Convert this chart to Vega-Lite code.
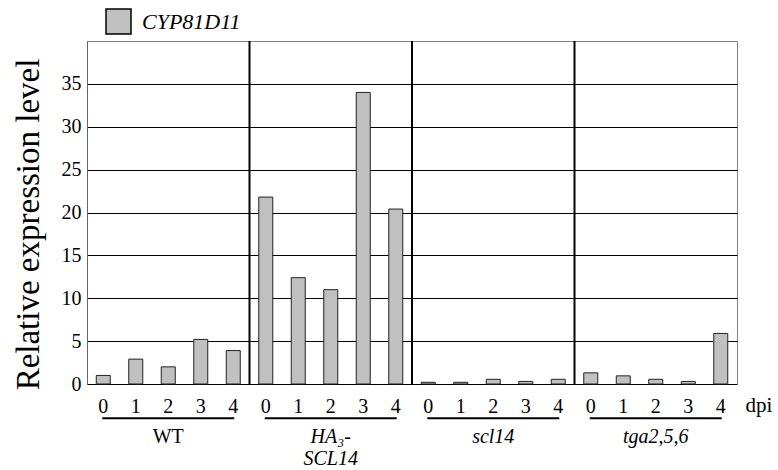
{
  "$schema": "https://vega.github.io/schema/vega-lite/v6.json",
  "width": 650,
  "height": 343,
  "padding": {"left": 12, "top": 8, "right": 5, "bottom": 5},
  "config": {
    "font": "Liberation Serif",
    "view": {"stroke": "#808080", "strokeWidth": 1},
    "axis": {"labelColor": "#000", "titleColor": "#000", "labelFont": "Liberation Serif", "titleFont": "Liberation Serif"},
    "legend": {"labelFont": "Liberation Serif", "titleFont": "Liberation Serif"}
  },
  "datasets": {
    "bars": [
      {"key": "1-0", "group": "WT", "dpi": "0", "gene": "CYP81D11", "value": 1.0},
      {"key": "1-1", "group": "WT", "dpi": "1", "gene": "CYP81D11", "value": 2.9},
      {"key": "1-2", "group": "WT", "dpi": "2", "gene": "CYP81D11", "value": 2.0},
      {"key": "1-3", "group": "WT", "dpi": "3", "gene": "CYP81D11", "value": 5.2},
      {"key": "1-4", "group": "WT", "dpi": "4", "gene": "CYP81D11", "value": 3.9},
      {"key": "2-0", "group": "HA3-SCL14", "dpi": "0", "gene": "CYP81D11", "value": 21.8},
      {"key": "2-1", "group": "HA3-SCL14", "dpi": "1", "gene": "CYP81D11", "value": 12.4},
      {"key": "2-2", "group": "HA3-SCL14", "dpi": "2", "gene": "CYP81D11", "value": 11.0},
      {"key": "2-3", "group": "HA3-SCL14", "dpi": "3", "gene": "CYP81D11", "value": 34.0},
      {"key": "2-4", "group": "HA3-SCL14", "dpi": "4", "gene": "CYP81D11", "value": 20.4},
      {"key": "3-0", "group": "scl14", "dpi": "0", "gene": "CYP81D11", "value": 0.2},
      {"key": "3-1", "group": "scl14", "dpi": "1", "gene": "CYP81D11", "value": 0.2},
      {"key": "3-2", "group": "scl14", "dpi": "2", "gene": "CYP81D11", "value": 0.55},
      {"key": "3-3", "group": "scl14", "dpi": "3", "gene": "CYP81D11", "value": 0.3},
      {"key": "3-4", "group": "scl14", "dpi": "4", "gene": "CYP81D11", "value": 0.55},
      {"key": "4-0", "group": "tga2,5,6", "dpi": "0", "gene": "CYP81D11", "value": 1.3},
      {"key": "4-1", "group": "tga2,5,6", "dpi": "1", "gene": "CYP81D11", "value": 0.95},
      {"key": "4-2", "group": "tga2,5,6", "dpi": "2", "gene": "CYP81D11", "value": 0.55},
      {"key": "4-3", "group": "tga2,5,6", "dpi": "3", "gene": "CYP81D11", "value": 0.3},
      {"key": "4-4", "group": "tga2,5,6", "dpi": "4", "gene": "CYP81D11", "value": 5.9}
    ],
    "groups": [
      {"group": "WT"},
      {"group": "HA3-SCL14"},
      {"group": "scl14"},
      {"group": "tga2,5,6"}
    ]
  },
  "layer": [
    {
      "data": {"name": "bars"},
      "mark": {"type": "bar", "size": 14, "stroke": "#222", "strokeWidth": 1},
      "encoding": {
        "x": {
          "field": "key",
          "type": "nominal",
          "sort": "ascending",
          "scale": {"paddingInner": 0, "paddingOuter": 0},
          "axis": {
            "orient": "bottom",
            "labelExpr": "substring(datum.value, 2)",
            "labelAngle": 0,
            "labelFontSize": 20,
            "labelPadding": 12,
            "ticks": false,
            "domain": false,
            "title": "dpi",
            "titleFontSize": 21,
            "titleFontWeight": "normal",
            "titleAngle": 0,
            "titleAlign": "left",
            "titleBaseline": "alphabetic",
            "titleX": 658,
            "titleY": 27
          }
        },
        "y": {
          "field": "value",
          "type": "quantitative",
          "scale": {"domain": [0, 40], "nice": false},
          "axis": {
            "values": [0, 5, 10, 15, 20, 25, 30, 35],
            "grid": true,
            "gridColor": "#000",
            "gridWidth": 1,
            "ticks": false,
            "domainColor": "#666",
            "labelFontSize": 20,
            "labelPadding": 6,
            "title": "Relative expression level",
            "titleFontSize": 33,
            "titleFontWeight": "normal",
            "titlePadding": 16,
            "titleY": 183
          }
        },
        "fill": {
          "field": "gene",
          "type": "nominal",
          "scale": {"range": ["#c0c0c0"]},
          "legend": {
            "orient": "none",
            "legendX": 18,
            "legendY": -33,
            "title": null,
            "padding": 0,
            "direction": "horizontal",
            "symbolType": "square",
            "symbolSize": 625,
            "symbolStrokeColor": "#000",
            "symbolStrokeWidth": 1.5,
            "symbolOpacity": 1,
            "labelFontSize": 22,
            "labelFontStyle": "italic",
            "labelColor": "#000",
            "labelOffset": 10
          }
        }
      }
    },
    {
      "data": {"name": "groups"},
      "layer": [
        {
          "mark": {"type": "tick", "orient": "horizontal", "size": 132, "thickness": 2, "color": "#000", "opacity": 1},
          "encoding": {
            "x": {
              "field": "group",
              "type": "nominal",
              "sort": ["WT", "HA3-SCL14", "scl14", "tga2,5,6"],
              "scale": {"paddingInner": 0, "paddingOuter": 0},
              "axis": {
                "orient": "bottom",
                "title": null,
                "ticks": false,
                "domain": false,
                "labelAngle": 0,
                "labelFontSize": 20,
                "labelPadding": 42,
                "labelLineHeight": 22,
                "labelExpr": "datum.value == 'HA3-SCL14' ? ['HA₃-', 'SCL14'] : datum.value",
                "labelFontStyle": {"condition": {"test": "datum.value == 'WT'", "value": "normal"}, "value": "italic"}
              }
            },
            "y": {"datum": -4}
          }
        },
        {
          "transform": [{"filter": "datum.group != 'tga2,5,6'"}],
          "mark": {"type": "rule", "color": "#000", "strokeWidth": 2},
          "encoding": {
            "x": {
              "field": "group",
              "type": "nominal",
              "sort": ["WT", "HA3-SCL14", "scl14", "tga2,5,6"],
              "bandPosition": 1
            }
          }
        }
      ]
    }
  ],
  "resolve": {"scale": {"x": "independent"}, "axis": {"x": "independent"}}
}
